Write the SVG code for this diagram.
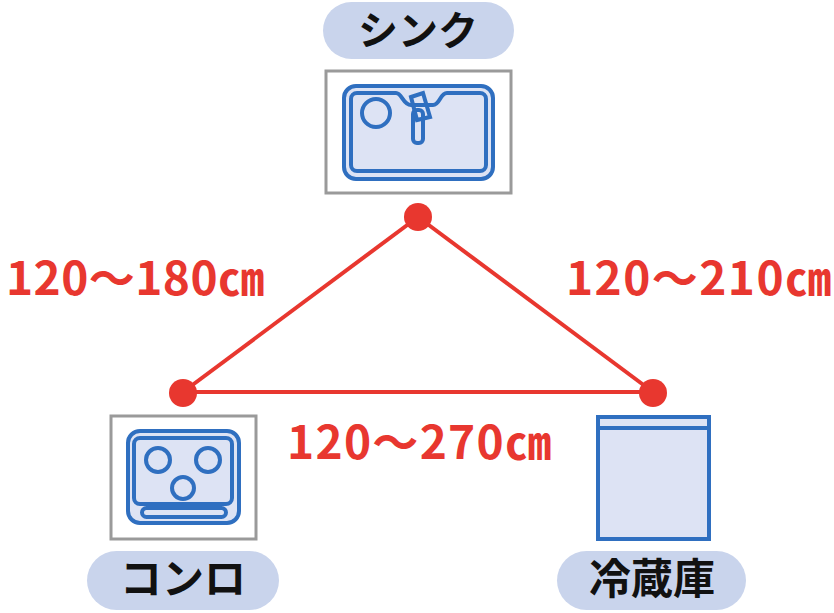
<svg xmlns="http://www.w3.org/2000/svg" width="834" height="613" viewBox="0 0 834 613">
<style>
.pill{fill:#c9d4ec}
.lbl{font-family:"Noto Sans CJK JP","Noto Sans",sans-serif;font-weight:700;font-size:40px;fill:#111;text-anchor:middle}
.dim{font-family:"Noto Sans CJK JP","Noto Sans",sans-serif;font-weight:700;font-size:46px;fill:#e8372f}
.frame{fill:#fff;stroke:#9a9a9a;stroke-width:3}
.app{fill:#dde3f4;stroke:#2f6fc0;stroke-width:4}
.appl{fill:none;stroke:#2f6fc0;stroke-width:4}
.edge{stroke:#e8372f;stroke-width:4;fill:none}
.dot{fill:#e8372f}
</style>
<rect width="834" height="613" fill="#fff"/>
<g id="connectors">
<line class="edge" x1="418" y1="217" x2="183" y2="392"/>
<line class="edge" x1="418" y1="217" x2="653" y2="392"/>
<line class="edge" x1="183" y1="392" x2="653" y2="392"/>
<circle class="dot" cx="418" cy="217" r="14"/>
<circle class="dot" cx="183" cy="393" r="14"/>
<circle class="dot" cx="653" cy="393" r="14"/>
<text class="dim" x="6" y="295" textLength="258" lengthAdjust="spacing">120～180㎝</text>
<text class="dim" x="566" y="295" textLength="265" lengthAdjust="spacing">120～210㎝</text>
<text class="dim" x="287" y="459" textLength="264" lengthAdjust="spacing">120～270㎝</text>
</g>
<g id="sink">
<rect class="pill" x="323" y="2" width="191" height="57" rx="28.5"/>
<text class="lbl" x="418" y="45">シンク</text>
<rect class="frame" x="326" y="71" width="185" height="122"/>
<rect class="app" x="344" y="86" width="149" height="93" rx="12"/>
<path class="appl" d="M357,93 H396 C402,93 403,105 411,105 H433 C440,105 440,93 447,93 H480 A6,6 0 0 1 486,99 V165 A6,6 0 0 1 480,171 H357 A6,6 0 0 1 351,165 V99 A6,6 0 0 1 357,93 Z"/>
<circle class="appl" cx="376" cy="113" r="14"/>
<rect class="appl" x="413" y="110" width="10" height="33" rx="4" fill="#dde3f4"/>
<polygon class="appl" points="411,97 423,93 430,117 417,120" fill="#dde3f4"/>
</g>
<g id="conro">
<rect class="frame" x="111" y="416" width="145" height="123"/>
<rect class="app" x="128" y="431" width="111" height="92" rx="12"/>
<rect class="appl" x="134" y="438" width="98" height="66" rx="6"/>
<circle class="appl" cx="158" cy="460" r="12"/>
<circle class="appl" cx="208" cy="460" r="12"/>
<circle class="appl" cx="183" cy="488" r="11"/>
<rect class="appl" x="142" y="508" width="84" height="9" rx="4.5"/>
<rect class="pill" x="87" y="551" width="192" height="59" rx="29.5"/>
<text class="lbl" x="183" y="594" style="font-size:42px">コンロ</text>
</g>
<g id="fridge">
<rect class="app" x="598" y="417" width="111" height="122"/>
<line class="appl" x1="598" y1="428" x2="709" y2="428"/>
<rect class="pill" x="557" y="551" width="189" height="59" rx="29.5"/>
<text class="lbl" x="652" y="594" style="font-size:42px">冷蔵庫</text>
</g>
</svg>
